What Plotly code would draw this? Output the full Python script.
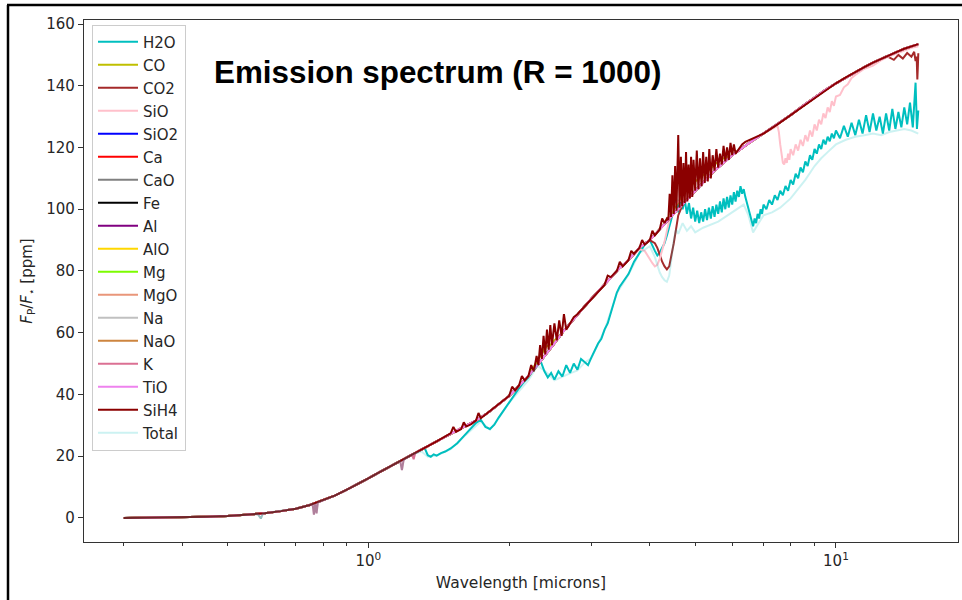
import plotly.graph_objects as go

# ---------------- data ----------------
# smooth continuum (the level every species follows outside its own bands)
wl_base = [0.3, 0.35, 0.4, 0.45, 0.5, 0.55, 0.6, 0.65, 0.7, 0.75, 0.8, 0.85, 0.9, 0.95, 1.0,
           1.05, 1.1, 1.15, 1.2, 1.25, 1.3, 1.35, 1.4, 1.45, 1.5, 1.6, 1.7, 1.8, 1.9, 2.0,
           2.1, 2.2, 2.3, 2.4, 2.5, 2.6, 2.7, 2.8, 2.9, 3.0, 3.15, 3.3, 3.45, 3.6, 3.8, 4.0,
           4.25, 4.5, 4.75, 5.0, 5.25, 5.5, 5.75, 6.0, 6.5, 7.0, 7.5, 8.0, 8.5, 9.0, 9.5, 10,
           10.5, 11, 11.5, 12, 12.5, 13, 13.5, 14, 14.5, 15]
f_base = [0.0, 0.1, 0.2, 0.4, 0.6, 1.0, 1.5, 2.2, 3.0, 4.2, 5.7, 7.3, 9.2, 11.0, 12.8,
          14.6, 16.2, 17.8, 19.2, 20.8, 22.2, 23.5, 24.8, 26.0, 27.4, 29.5, 31.6, 34.0, 36.8, 39.5,
          42.8, 46.0, 49.5, 53.0, 56.5, 60.0, 63.0, 66.0, 68.5, 71.0, 74.5, 78.0, 81.0, 83.5, 87.5, 90.0,
          94.5, 98.5, 102.3, 106.0, 109.3, 112.5, 115.2, 117.5, 121.3, 124.5, 127.5, 130.5, 133.5, 136.2, 138.7, 140.8,
          142.7, 144.5, 146.0, 147.5, 148.8, 150.0, 151.0, 152.0, 152.8, 153.5]

wl_h2o = [0.3, 0.35, 0.4, 0.45, 0.5, 0.55, 0.6, 0.65, 0.7, 0.75, 0.8, 0.85, 0.9, 0.95, 1.0,
          1.05, 1.1, 1.15, 1.2, 1.25, 1.3,
          1.32, 1.34, 1.36, 1.38, 1.40, 1.43, 1.46, 1.50, 1.55, 1.60,
          1.65, 1.70, 1.74, 1.78, 1.82, 1.86, 1.90, 1.95, 2.00, 2.05,
          2.10, 2.15, 2.20, 2.25, 2.30, 2.34, 2.38, 2.42, 2.46, 2.50,
          2.55, 2.60, 2.65, 2.70, 2.75, 2.80, 2.85, 2.90, 2.95, 3.00,
          3.05, 3.10, 3.15, 3.20, 3.25, 3.30, 3.35, 3.40, 3.45, 3.50,
          3.60, 3.70, 3.80, 3.90, 4.00,
          4.05, 4.10, 4.15, 4.20, 4.25, 4.30, 4.35, 4.40, 4.45, 4.50,
          4.55, 4.60, 4.65, 4.70, 4.75, 4.80, 4.85, 4.90, 4.95, 5.00,
          5.05, 5.10, 5.15, 5.20, 5.25, 5.30, 5.35, 5.40, 5.45, 5.50,
          5.55, 5.60, 5.65, 5.70, 5.75, 5.80, 5.85, 5.90, 5.95, 6.00,
          6.05, 6.10, 6.15, 6.20, 6.25, 6.30, 6.35, 6.40, 6.45, 6.50,
          6.55, 6.60, 6.65, 6.70, 6.75, 6.80, 6.85, 6.90, 6.95, 7.00,
          7.1, 7.2, 7.3, 7.4, 7.5, 7.6, 7.7, 7.8, 7.9, 8.0,
          8.1, 8.2, 8.3, 8.4, 8.5, 8.6, 8.7, 8.8, 8.9, 9.0,
          9.1, 9.2, 9.3, 9.4, 9.5, 9.6, 9.7, 9.8, 9.9, 10.0,
          10.2, 10.4, 10.6, 10.8, 11.0, 11.2, 11.4, 11.6, 11.8, 12.0,
          12.2, 12.4, 12.6, 12.8, 13.0, 13.2, 13.4, 13.6, 13.8, 14.0,
          14.2, 14.4, 14.6, 14.8, 14.9, 15.0]
f_h2o = [0.0, 0.1, 0.2, 0.4, 0.6, 1.0, 1.5, 2.2, 3.0, 4.2, 5.7, 7.3, 9.2, 11.0, 12.8,
         14.6, 16.2, 17.8, 19.2, 20.8, 22.2,
         22.6, 20.3, 19.8, 20.6, 20.2, 21.0, 21.5, 22.5, 24.2, 26.5,
         28.8, 30.8, 31.8, 29.5, 28.8, 30.2, 32.5, 35.0, 37.5, 40.0,
         42.0, 44.0, 45.5, 48.0, 50.0, 50.5, 47.5, 45.5, 47.0, 44.8,
         47.5, 45.8, 49.5, 47.0, 50.0, 48.0, 51.5, 50.5, 49.5, 52.0,
         54.5, 56.5, 58.0, 61.0, 63.0, 66.5, 70.0, 73.0, 75.0, 76.5,
         79.0, 83.0, 86.0, 88.5, 90.0,
         88.0, 86.5, 85.0, 86.0, 87.5, 89.0, 91.5, 94.0, 97.0, 100.5,
         103.5, 99.0, 104.5, 100.0, 103.0, 98.5, 102.0, 97.0, 100.5, 96.0,
         99.5, 95.5, 99.0, 96.0, 100.0, 96.5, 100.5, 97.0, 101.0, 97.5,
         101.5, 98.5, 102.5, 99.0, 103.5, 100.0, 104.0, 100.5, 104.5, 101.5,
         105.5, 102.5, 106.0, 104.0, 107.5, 105.0, 106.5, 104.0, 102.0, 100.0,
         97.5, 96.0, 94.5, 97.0, 95.5, 98.5, 97.0, 100.0, 98.5, 101.5,
         100.0, 103.0, 101.5, 104.5, 103.0, 106.0, 104.5, 107.5, 106.0, 109.5,
         108.0, 111.5, 110.0, 113.5, 112.0, 115.5, 114.0, 117.5, 116.0, 119.5,
         118.0, 121.0, 119.5, 122.5, 121.0, 123.5, 122.0, 124.5, 123.0, 125.5,
         123.0, 127.0, 123.5, 128.0, 124.0, 129.0, 124.5, 130.5, 125.0, 131.0,
         125.5, 130.0, 124.5, 131.0, 125.5, 132.5, 126.0, 131.5, 126.5, 133.0,
         127.5, 134.5, 126.5, 141.0, 126.0, 132.0]

# band features: (wavelengths, values) replacing the continuum over their span
co_band1_wl = [2.3, 2.35, 2.4, 2.45, 2.5]
co_band1_f = [51.0, 53.5, 55.5, 56.0, 57.5]
co_band2_wl = [4.5, 4.75, 5.0, 5.25, 5.5, 5.75]
co_band2_f = [100.0, 105.5, 109.0, 111.5, 114.5, 116.5]

co2_band1_wl = [4.1, 4.15, 4.2, 4.25, 4.3, 4.35, 4.4, 4.45, 4.5, 4.55, 4.6, 4.7]
co2_band1_f = [89.0, 87.5, 85.0, 83.0, 81.5, 80.5, 81.5, 85.0, 89.0, 93.5, 98.0, 101.5]
co2_band2_wl = [12.8, 13.0, 13.3, 13.6, 13.9, 14.2, 14.5, 14.7, 14.8, 14.88, 14.93, 14.97, 15.0]
co2_band2_f = [149.5, 149.2, 148.4, 150.0, 148.8, 150.6, 149.4, 151.0, 148.0, 149.5, 142.0, 146.5, 150.5]

sio_band_wl = [3.8, 3.9, 3.95, 4.0, 4.05, 4.1, 4.15, 4.2, 4.25, 4.3,
               4.35, 4.4, 4.45, 4.5, 4.6, 4.75, 5.0, 5.25, 5.5, 5.75,
               6.0, 6.5, 7.0, 7.5, 7.55, 7.6, 7.65, 7.7, 7.75, 7.8,
               7.85, 7.9, 7.95, 8.0, 8.1, 8.2, 8.3, 8.4, 8.5, 8.6,
               8.7, 8.8, 8.9, 9.0, 9.1, 9.2, 9.3, 9.4, 9.5, 9.6,
               9.7, 9.8, 9.9, 10.0, 10.2, 10.4, 10.6, 10.8, 11.0, 11.5,
               12.0, 12.5, 13, 13.5, 14, 14.5, 15]
sio_band_f = [87.0, 86.5, 85.0, 84.0, 82.5, 81.5, 82.0, 84.0, 86.5, 89.5,
              93.0, 96.5, 99.5, 101.0, 102.5, 103.0, 106.0, 109.3, 112.5, 115.2,
              117.5, 121.3, 124.5, 127.0, 125.0, 121.0, 117.5, 115.0, 114.5, 116.5,
              115.0, 118.0, 116.0, 119.5, 117.5, 121.0, 119.0, 122.5, 120.5, 124.0,
              122.0, 125.5, 123.5, 127.5, 125.5, 129.0, 127.5, 131.0, 129.5, 133.0,
              131.5, 135.0, 133.5, 136.5, 137.0, 139.5, 140.5, 142.5, 143.5, 145.5,
              146.5, 148.3, 149.5, 150.5, 151.5, 152.3, 152.8]

na_line_wl = [0.58, 0.589, 0.595]
na_line_f = [1.3, -0.2, 1.4]

k_line1_wl = [0.76, 0.765, 0.77, 0.775, 0.78]
k_line1_f = [4.5, 1.1, 4.6, 1.5, 5.0]
k_line2_wl = [1.17, 1.18, 1.19]
k_line2_f = [18.4, 15.5, 18.8]
k_line3_wl = [1.24, 1.25, 1.26]
k_line3_f = [20.6, 19.0, 21.0]

wl_sih4 = [0.3, 0.35, 0.4, 0.45, 0.5, 0.55, 0.6, 0.65, 0.7, 0.75, 0.8, 0.85, 0.9, 0.95, 1.0,
           1.05, 1.1, 1.15, 1.2, 1.25, 1.3,
           1.35, 1.4, 1.45, 1.5, 1.52, 1.54, 1.58, 1.6, 1.62, 1.66, 1.7, 1.72, 1.74, 1.8, 1.85, 1.9, 1.95, 2.0,
           2.03, 2.06, 2.1, 2.13, 2.16, 2.2, 2.23, 2.26, 2.29, 2.31, 2.33, 2.35, 2.37, 2.39, 2.41, 2.43,
           2.45, 2.47, 2.5, 2.53, 2.56, 2.59, 2.62, 2.65,
           2.7, 2.75, 2.8, 2.9, 3.0, 3.1, 3.2, 3.25, 3.3, 3.4, 3.45, 3.5, 3.6, 3.65, 3.7, 3.8, 3.85, 3.9,
           4.0, 4.05, 4.1, 4.2, 4.25, 4.3,
           4.35, 4.38, 4.41, 4.44, 4.47, 4.50, 4.53, 4.56, 4.60, 4.63,
           4.66, 4.69, 4.72, 4.75, 4.78, 4.81, 4.84, 4.87, 4.90, 4.93,
           4.96, 5.00, 5.04, 5.08, 5.12, 5.16, 5.20, 5.24, 5.28, 5.32,
           5.36, 5.40, 5.45, 5.50, 5.55, 5.60, 5.65, 5.70, 5.75, 5.80,
           5.85, 5.90, 5.95, 6.00, 6.05, 6.10, 6.20, 6.30, 6.40, 6.60,
           6.80, 7.00, 7.5, 8.0, 8.2, 8.5, 9.0, 9.5, 10.0, 10.5,
           11.0, 11.5, 12.0, 12.5, 13.0, 13.5, 14.0, 14.5, 15.0]
f_sih4 = [0.0, 0.1, 0.2, 0.4, 0.6, 1.0, 1.5, 2.2, 3.0, 4.2, 5.7, 7.3, 9.2, 11.0, 12.8,
          14.6, 16.2, 17.8, 19.2, 20.8, 22.2,
          23.5, 24.8, 26.0, 27.4, 29.5, 27.9, 28.8, 31.0, 29.6, 30.4, 31.6, 34.0, 32.3, 34.0, 35.4, 36.8, 38.0, 39.5,
          42.5, 41.3, 42.9, 46.0, 44.5, 46.0, 49.5, 47.5, 52.5, 49.5, 56.0, 51.5, 59.0, 53.0, 61.0, 54.5,
          62.5, 56.0, 63.0, 57.5, 64.0, 59.0, 66.0, 61.0,
          63.0, 65.0, 66.0, 68.5, 71.0, 73.5, 75.5, 78.5, 78.0, 80.0, 83.0, 81.5, 83.5, 86.5, 85.5, 87.5, 90.0, 88.5,
          90.0, 93.0, 91.5, 93.5, 97.0, 95.5,
          97.0, 96.5, 105.0, 97.5, 111.0, 98.5, 114.0, 99.5, 124.0, 100.5,
          117.0, 101.0, 115.0, 102.0, 118.5, 102.5, 114.5, 103.5, 117.0, 104.0,
          116.0, 106.0, 119.0, 106.5, 116.5, 107.5, 118.5, 108.5, 117.0, 109.0,
          119.5, 110.0, 117.5, 112.5, 119.5, 113.5, 118.0, 114.5, 120.5, 115.5,
          120.0, 116.0, 121.5, 117.5, 121.0, 118.0, 119.5, 121.0, 121.8, 122.8,
          123.7, 124.5, 127.5, 130.5, 131.8, 133.5, 136.2, 138.7, 140.8, 142.7,
          144.5, 146.0, 147.5, 148.8, 150.0, 151.0, 152.0, 152.8, 153.5]

total_short_wl = [0.58, 0.589, 0.595, 0.76, 0.765, 0.77, 0.775, 0.78, 1.17, 1.18, 1.19]
total_short_f = [1.3, -0.2, 1.4, 4.5, 1.1, 4.6, 1.5, 5.0, 18.4, 15.5, 18.8]
total_band_wl = [1.3, 1.34, 1.4, 1.5, 1.6, 1.74, 1.82, 1.9, 2.0, 2.2, 2.3, 2.4, 2.5, 2.6, 2.7, 2.8,
                 2.9, 3.0, 3.2, 3.4, 3.6, 3.8, 4.0, 4.1, 4.15, 4.2, 4.25, 4.3, 4.35, 4.4, 4.45,
                 4.5, 4.55, 4.6, 4.7, 4.8, 4.9, 5.0, 5.2, 5.4, 5.6, 5.8, 6.0, 6.2, 6.35, 6.5,
                 6.65, 6.8, 7.0, 7.3, 7.6, 8.0, 8.3, 8.6, 9.0, 9.3, 9.6, 10.0, 10.5, 11.0,
                 11.5, 12.0, 12.5, 13.0, 13.5, 14.0, 14.5, 15.0]
total_band_f = [21.5, 19.8, 20.2, 22.3, 26.3, 31.2, 28.6, 32.3, 37.3, 44.6, 49.3, 47.3, 44.6, 45.6, 46.8, 47.8,
                50.3, 51.8, 60.8, 72.8, 78.8, 85.8, 88.0, 84.5, 82.0, 79.5, 78.0, 77.0, 76.5, 78.5, 84.0,
                90.0, 93.5, 92.0, 95.5, 93.0, 94.5, 92.5, 94.0, 95.0, 96.0, 97.5, 99.0, 100.5, 101.5, 98.0,
                92.5, 95.0, 98.0, 99.0, 100.5, 103.5, 106.5, 109.5, 114.0, 116.5, 118.5, 121.0, 122.5, 123.5,
                124.0, 124.5, 124.0, 125.0, 125.5, 126.0, 125.5, 124.5]

species = ["H2O", "CO", "CO2", "SiO", "SiO2", "Ca", "CaO", "Fe", "Al", "AlO",
           "Mg", "MgO", "Na", "NaO", "K", "TiO", "SiH4", "Total"]
colors = ["#00BFBF", "#BFBF00", "#A52A2A", "#FFC0CB", "#0000FF", "#FF0000", "#808080", "#000000",
          "#800080", "#FFD700", "#7CFC00", "#E9967A", "#C0C0C0", "#CD853F", "#DB7093", "#EE82EE",
          "#8B0000", "rgba(0,191,191,0.2)"]

y_ticks = [0, 20, 40, 60, 80, 100, 120, 140, 160]
x_major = [1, 10]
x_major_text = ["10<sup>0</sup>", "10<sup>1</sup>"]
x_minor = [0.3, 0.4, 0.5, 0.6, 0.7, 0.8, 0.9, 2, 3, 4, 5, 6, 7, 8, 9]


def with_bands(base_wl, base_f, *bands):
    """Continuum points outside the given bands, plus the band points."""
    spans = [(min(w), max(w)) for w, _ in bands]
    pts = [(w, f) for w, f in zip(base_wl, base_f)
           if not any(lo <= w <= hi for lo, hi in spans)]
    for w, f in bands:
        assert len(w) == len(f)
        pts += list(zip(w, f))
    pts.sort()
    return [p[0] for p in pts], [p[1] for p in pts]


for a, b in [(wl_base, f_base), (wl_h2o, f_h2o), (wl_sih4, f_sih4), (sio_band_wl, sio_band_f),
             (total_band_wl, total_band_f), (total_short_wl, total_short_f)]:
    assert len(a) == len(b), (len(a), len(b))

base_short = ([w for w in wl_base if w < 1.3], [f for w, f in zip(wl_base, f_base) if w < 1.3])
series = {
    "H2O": (wl_h2o, f_h2o),
    "CO": with_bands(wl_base, f_base, (co_band1_wl, co_band1_f), (co_band2_wl, co_band2_f)),
    "CO2": with_bands(wl_base, f_base, (co2_band1_wl, co2_band1_f), (co2_band2_wl, co2_band2_f)),
    "SiO": with_bands(wl_base, f_base, (sio_band_wl, sio_band_f)),
    "Na": with_bands(wl_base, f_base, (na_line_wl, na_line_f)),
    "K": with_bands(wl_base, f_base, (k_line1_wl, k_line1_f), (k_line2_wl, k_line2_f),
                    (k_line3_wl, k_line3_f)),
    "SiH4": (wl_sih4, f_sih4),
    "Total": with_bands(base_short[0] + total_band_wl, base_short[1] + total_band_f,
                        (total_short_wl[:3], total_short_f[:3]),
                        (total_short_wl[3:8], total_short_f[3:8]),
                        (total_short_wl[8:], total_short_f[8:])),
}
for name in species:
    series.setdefault(name, (wl_base, f_base))

# ---------------- figure ----------------
fig = go.Figure()
for name, col in zip(species, colors):
    wl, fl = series[name]
    fig.add_trace(go.Scatter(x=wl, y=fl, mode="lines", name=name,
                             line=dict(color=col, width=2), legendgroup=name))

FONT = "DejaVu Sans"
TXT = "#262626"
L, R, T, B = 84, 4, 20, 58
W, H = 962, 600
pw, ph = W - L - R, H - T - B


def px(x):
    return (x - L) / pw


def py(y):
    return (H - B - y) / ph


fig.update_layout(
    width=W, height=H,
    margin=dict(l=L, r=R, t=T, b=B, pad=0),
    paper_bgcolor="white", plot_bgcolor="white",
    font=dict(family=FONT, size=15, color=TXT),
    showlegend=True,
    legend=dict(x=px(92), y=py(24.5), xanchor="left", yanchor="top",
                bgcolor="rgba(255,255,255,0.85)", bordercolor="#CCCCCC", borderwidth=1,
                font=dict(family=FONT, size=15, color=TXT),
                traceorder="grouped", tracegroupgap=0.5, itemwidth=40),
    xaxis=dict(type="log", range=[-0.608, 1.261], showgrid=False, zeroline=False,
               showline=True, mirror=True, linecolor="#333333", linewidth=1.2,
               ticks="outside", ticklen=5, tickwidth=1, tickcolor="#333333",
               tickmode="array", tickvals=x_major, ticktext=x_major_text,
               tickfont=dict(family=FONT, size=15, color=TXT),
               minor=dict(ticks="outside", ticklen=3, tickwidth=1, tickcolor="#333333",
                          tickmode="array", tickvals=x_minor, showgrid=False),
               title=dict(text="Wavelength [microns]", font=dict(family=FONT, size=15.5, color=TXT),
                          standoff=8),
               automargin=False),
    yaxis=dict(range=[-7.8, 161.3], showgrid=False, zeroline=False,
               showline=True, mirror=True, linecolor="#333333", linewidth=1.2,
               ticks="outside", ticklen=5, tickwidth=1, tickcolor="#333333",
               tickmode="array", tickvals=y_ticks,
               tickfont=dict(family=FONT, size=15, color=TXT),
               title=dict(text="<i>F</i><sub>P</sub>/<i>F</i><sub>⋆</sub> [ppm]",
                          font=dict(family=FONT, size=15, color=TXT), standoff=10),
               automargin=False),
    annotations=[dict(text="<b>Emission spectrum (R = 1000)</b>", xref="paper", yref="paper",
                      x=px(438), y=py(73), xanchor="center", yanchor="middle", showarrow=False,
                      font=dict(family="Liberation Sans, Arial, sans-serif", size=31.4, color="black"))],
    shapes=[
        dict(type="line", xref="paper", yref="paper", x0=px(8), x1=px(8), y0=py(605), y1=py(5),
             line=dict(color="black", width=2.5)),
        dict(type="line", xref="paper", yref="paper", x0=px(7), x1=px(965), y0=py(5), y1=py(5),
             line=dict(color="black", width=2.5)),
    ],
)

fig.write_html("out.html")
